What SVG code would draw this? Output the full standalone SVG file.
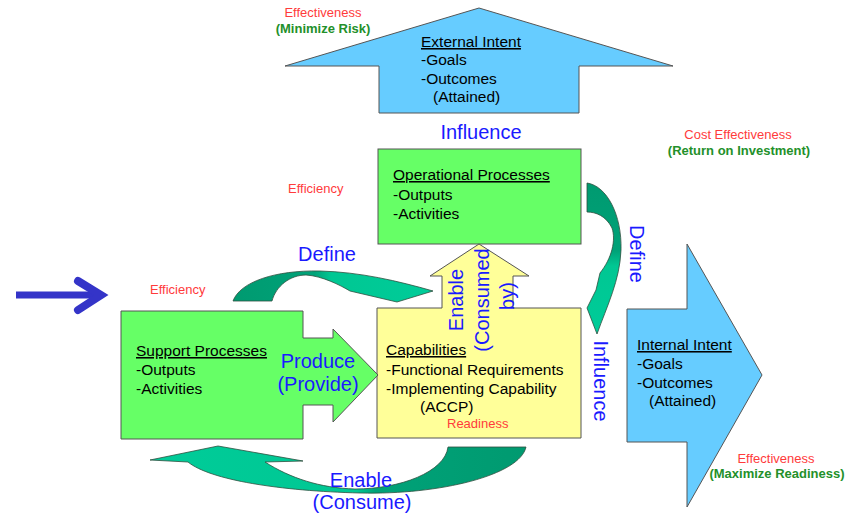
<svg xmlns="http://www.w3.org/2000/svg" width="852" height="516" viewBox="0 0 852 516">
<style>
  .shape { stroke: #555555; stroke-width: 1; }
  .blue { fill: #66ccff; }
  .green { fill: #66ff66; }
  .yellow { fill: #ffff99; }
  .t { font-family: "Liberation Sans", Arial, sans-serif; font-size: 15.5px; fill: #000000; }
  .u { text-decoration: underline; }
  .lbl { font-family: "Liberation Sans", Arial, sans-serif; font-size: 20px; fill: #1a1aff; }
  .red { font-family: "Liberation Sans", Arial, sans-serif; font-size: 13px; fill: #ff3b3b; }
  .grn { font-family: "Liberation Sans", Arial, sans-serif; font-size: 13px; font-weight: bold; fill: #23902a; }
  .curve { stroke: #2f4f3f; stroke-width: 0.8; }
</style>
<defs>
  <linearGradient id="gTop" gradientUnits="userSpaceOnUse" x1="229" y1="0" x2="433" y2="0">
    <stop offset="0" stop-color="#009a70"/>
    <stop offset="0.42" stop-color="#00a278"/>
    <stop offset="0.5" stop-color="#00c793"/>
    <stop offset="1" stop-color="#00cc99"/>
  </linearGradient>
  <linearGradient id="gRight" gradientUnits="userSpaceOnUse" x1="0" y1="183" x2="0" y2="334">
    <stop offset="0" stop-color="#009a70"/>
    <stop offset="0.45" stop-color="#00a278"/>
    <stop offset="0.55" stop-color="#00c793"/>
    <stop offset="1" stop-color="#00cc99"/>
  </linearGradient>
  <linearGradient id="gBot" gradientUnits="userSpaceOnUse" x1="150" y1="0" x2="526" y2="0">
    <stop offset="0" stop-color="#00cc99"/>
    <stop offset="0.55" stop-color="#00c793"/>
    <stop offset="0.6" stop-color="#00a278"/>
    <stop offset="1" stop-color="#009a70"/>
  </linearGradient>
</defs>

<g id="external-intent">
  <polygon class="shape blue" points="379,113 379,66 285,66 479,8 673,66 579,66 579,113"/>
  <text class="t u" x="421" y="47">External Intent</text>
  <text class="t" x="421" y="65">-Goals</text>
  <text class="t" x="421" y="84">-Outcomes</text>
  <text class="t" x="433" y="102">(Attained)</text>
</g>

<g id="operational-processes">
  <rect class="shape green" x="378" y="149" width="203" height="95"/>
  <text class="t u" x="393" y="180">Operational Processes</text>
  <text class="t" x="393" y="200">-Outputs</text>
  <text class="t" x="393" y="219">-Activities</text>
</g>

<g id="capabilities">
  <polygon class="shape yellow" points="377,308 442,308 442,276 430,276 479,244 529,276 513,276 513,308 581,308 581,438 377,438"/>
  <text class="t u" x="386" y="355">Capabilities</text>
  <text class="t" x="386" y="375">-Functional Requirements</text>
  <text class="t" x="386" y="394">-Implementing Capability</text>
  <text class="t" x="420" y="412">(ACCP)</text>
</g>

<g id="support-processes">
  <polygon class="shape green" points="121,311 303,311 303,338 333,338 333,329 378,375 333,422 333,405 303,405 303,439 121,439"/>
  <text class="t u" x="136" y="356">Support Processes</text>
  <text class="t" x="136" y="375">-Outputs</text>
  <text class="t" x="136" y="394">-Activities</text>
</g>

<g id="internal-intent">
  <polygon class="shape blue" points="627,309 687,309 687,244 762,375 687,507 687,442 627,442"/>
  <text class="t u" x="637" y="350">Internal Intent</text>
  <text class="t" x="637" y="369">-Goals</text>
  <text class="t" x="637" y="388">-Outcomes</text>
  <text class="t" x="649" y="406">(Attained)</text>
</g>

<g id="connectors">
  <path id="define-top" class="curve" fill="url(#gTop)" d="M233,301 C240,282 275,270 320,271 C360,272 398,281 433,291 L397,302 L350,291 C340,285 322,276 306,275 C290,275 276,286 272,301 Z"/>
  <path id="define-right" class="curve" fill="url(#gRight)" d="M587,183 C607,186 622,215 621,250 C620,280 607,306 597,334 L587,308 L596,290 L600,273 C612,258 616,240 612,228 C606,216 596,212 587,212 Z"/>
  <path id="enable-bottom" class="curve" fill="url(#gBot)" d="M526,447 C520,475 440,495 360,493 C280,491 210,480 188,462 L150,460 L218,446 L303,461 L265,462 C290,478 320,488 355,489 C400,489 445,472 448,447 Z"/>
</g>

<g id="pointer">
  <line x1="16" y1="295" x2="100" y2="295" stroke="#3434c8" stroke-width="7"/>
  <polyline points="78,281 101,295 78,310" fill="none" stroke="#3434c8" stroke-width="8" stroke-linecap="round" stroke-linejoin="miter"/>
</g>

<g id="labels">
  <text class="lbl" x="481" y="139" text-anchor="middle">Influence</text>
  <text class="lbl" x="327" y="261" text-anchor="middle">Define</text>
  <text class="lbl" x="318" y="368" text-anchor="middle">Produce</text>
  <text class="lbl" x="318" y="391" text-anchor="middle">(Provide)</text>
  <text class="lbl" x="361" y="487" text-anchor="middle">Enable</text>
  <text class="lbl" x="362" y="509" text-anchor="middle">(Consume)</text>
  <text class="lbl" text-anchor="middle" transform="translate(463,300) rotate(-90)">Enable</text>
  <text class="lbl" text-anchor="middle" transform="translate(489,300) rotate(-90)">(Consumed</text>
  <text class="lbl" text-anchor="middle" transform="translate(514,296) rotate(-90)">by)</text>
  <text class="lbl" text-anchor="middle" transform="translate(630,254) rotate(90)">Define</text>
  <text class="lbl" text-anchor="middle" transform="translate(594,381) rotate(90)">Influence</text>

  <text class="red" x="323" y="17" text-anchor="middle">Effectiveness</text>
  <text class="grn" x="323" y="33" text-anchor="middle">(Minimize Risk)</text>
  <text class="red" x="738" y="139" text-anchor="middle">Cost Effectiveness</text>
  <text class="grn" x="739" y="155" text-anchor="middle">(Return on Investment)</text>
  <text class="red" x="288" y="193">Efficiency</text>
  <text class="red" x="150" y="294">Efficiency</text>
  <text class="red" x="447" y="428">Readiness</text>
  <text class="red" x="776" y="463" text-anchor="middle">Effectiveness</text>
  <text class="grn" x="777" y="478" text-anchor="middle">(Maximize Readiness)</text>
</g>
</svg>
